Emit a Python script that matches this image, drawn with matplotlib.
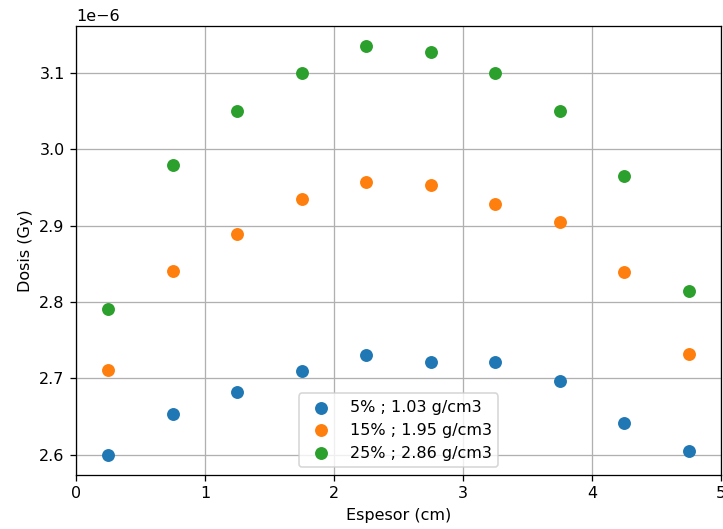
import matplotlib
matplotlib.use('Agg')
import matplotlib.pyplot as plt

# espesor (cm) y dosis (Gy) para cada mezcla
espesor = [0.25, 0.75, 1.25, 1.75, 2.25, 2.75, 3.25, 3.75, 4.25, 4.75]
dosis_5 = [2.600, 2.653, 2.682, 2.709, 2.730, 2.722, 2.722, 2.696, 2.641, 2.605]
dosis_15 = [2.711, 2.841, 2.889, 2.935, 2.957, 2.953, 2.929, 2.905, 2.839, 2.732]
dosis_25 = [2.791, 2.979, 3.050, 3.100, 3.135, 3.127, 3.100, 3.050, 2.965, 2.815]
etiquetas = ['5% ; 1.03 g/cm3', '15% ; 1.95 g/cm3', '25% ; 2.86 g/cm3']

dpi = 115
fig = plt.figure(figsize=(723 / dpi, 529 / dpi), dpi=dpi)
ax = fig.add_axes([0.105, 0.102, 0.892, 0.849])

for serie, etiqueta in zip([dosis_5, dosis_15, dosis_25], etiquetas):
    ax.scatter(espesor, [d * 1e-6 for d in serie], s=50, label=etiqueta, zorder=3)

ax.set_xlim(0, 5)
ax.set_xlabel('Espesor (cm)')
ax.set_ylabel('Dosis (Gy)')
ax.grid(True)
ax.legend(loc='lower center')

fig.savefig('out.png', dpi=dpi)
